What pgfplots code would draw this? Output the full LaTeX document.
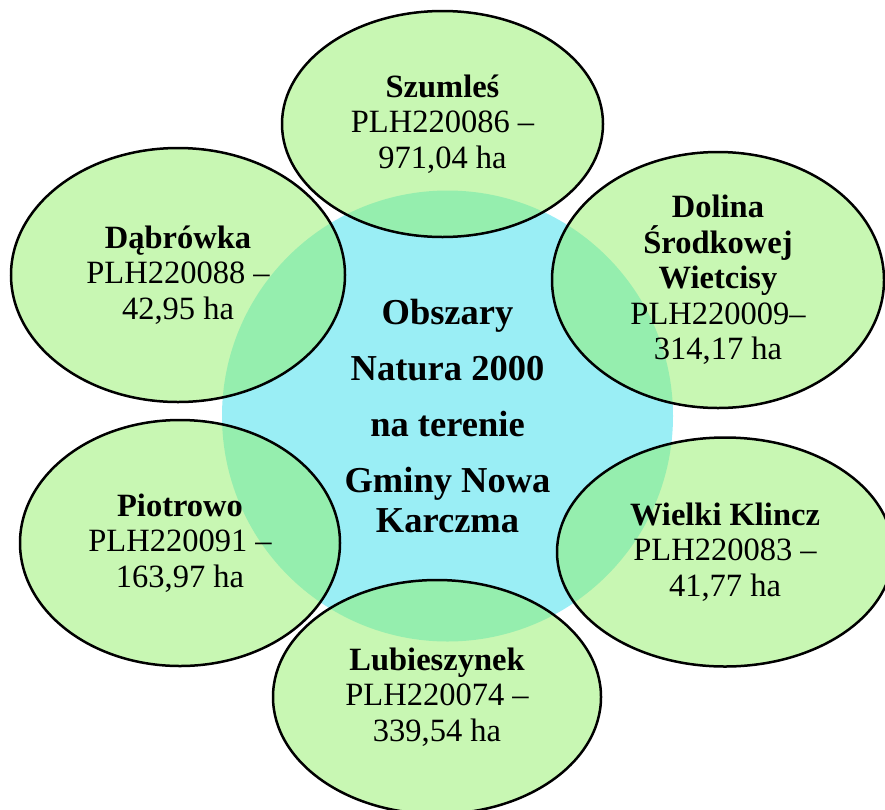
\documentclass[border=0pt]{standalone}
\usepackage{fontspec}
\setmainfont{Liberation Serif}
\usepackage{pgfplots}
\pgfplotsset{compat=1.18}
\usetikzlibrary{shapes.geometric}
\definecolor{cyanC}{RGB}{154,238,245}
\definecolor{greenE}{RGB}{146,239,104}
\begin{document}
\begin{tikzpicture}
\begin{axis}[width=885pt,height=809pt,scale only axis,
  xmin=0,xmax=885,ymin=0,ymax=809,y dir=reverse,
  hide axis,clip=false,
  every node near coord/.append style={anchor=center,align=center,inner sep=0pt,
     font=\fontsize{32.5}{35.5}\selectfont, text=black},
  ell/.style n args={3}{draw=none,mark=none,nodes near coords={#3},
     every node near coord/.append style={ellipse,draw=black,line width=2.5pt,
       fill=greenE,fill opacity=0.5,text opacity=1,draw opacity=1,
       minimum width=#1pt,minimum height=#2pt}},
]
% central circle
\addplot[draw=none,mark=none,
  nodes near coords={\textbf{Obszary}\\[16pt]\textbf{Natura 2000}\\[16pt]\textbf{na terenie}\\[16pt]\textbf{Gminy Nowa}\\\textbf{Karczma}},
  every node near coord/.append style={circle,fill=cyanC,minimum size=451pt,
     font=\fontsize{36.5}{40}\selectfont}]
  coordinates {(447.5,416)};
% surrounding ellipses
\addplot[ell={321}{226}{\textbf{Szumleś}\\PLH220086 –\\971,04 ha}] coordinates {(442.5,124)};
\addplot[ell={334}{254}{\textbf{Dąbrówka}\\PLH220088 –\\42,95 ha}] coordinates {(178,275)};
\addplot[ell={332}{256}{\textbf{Dolina}\\\textbf{Środkowej}\\\textbf{Wietcisy}\\PLH220009–\\314,17 ha}] coordinates {(718,280)};
\addplot[ell={320}{246}{\textbf{Piotrowo}\\PLH220091 –\\163,97 ha}] coordinates {(180,543)};
\addplot[ell={336}{229}{\textbf{Wielki Klincz}\\PLH220083 –\\41,77 ha}] coordinates {(725,552)};
\addplot[ell={328}{234}{\textbf{Lubieszynek}\\PLH220074 –\\339,54 ha}] coordinates {(437,697)};
\end{axis}
\pgfresetboundingbox
\useasboundingbox (current axis.south west) rectangle (current axis.north east);
\end{tikzpicture}
\end{document}
